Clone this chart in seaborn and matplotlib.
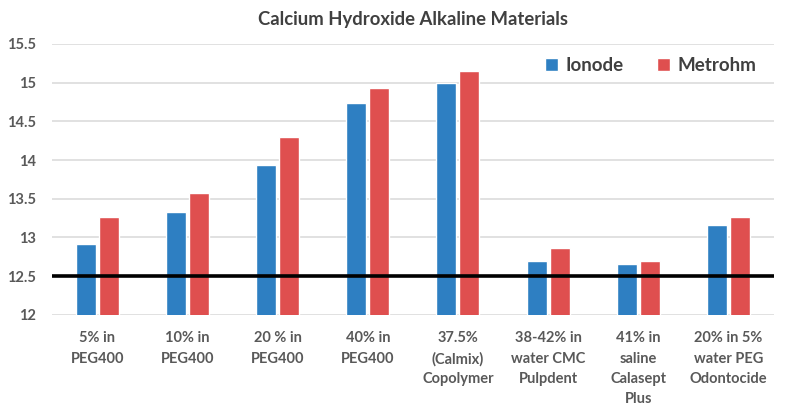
import pandas as pd
import seaborn as sns
from matplotlib import pyplot as plt
from matplotlib.ticker import FuncFormatter

# ---- data ----
materials = ['5% in\nPEG400', '10% in\nPEG400', '20 % in\nPEG400', '40% in\nPEG400',
             '37.5%\n(Calmix)\nCopolymer', '38-42% in\nwater CMC\nPulpdent',
             '41% in\nsaline\nCalasept\nPlus', '20% in 5%\nwater PEG\nOdontocide']
ionode = [12.92, 13.33, 13.93, 14.74, 15.00, 12.70, 12.66, 13.16]
metrohm = [13.26, 13.57, 14.30, 14.93, 15.15, 12.86, 12.70, 13.26]
threshold = 12.5

df = pd.DataFrame({'Material': materials * 2,
                   'pH': ionode + metrohm,
                   'Meter': ['Ionode'] * len(ionode) + ['Metrohm'] * len(metrohm)})

sns.set_style('white')
plt.rcParams['font.family'] = ['Lato', 'DejaVu Sans']

fig, ax = plt.subplots(figsize=(7.91, 4.11), dpi=100)
fig.subplots_adjust(left=0.066, right=0.978, top=0.893, bottom=0.234)

sns.barplot(ax=ax, data=df, x='Material', y='pH', hue='Meter',
            palette={'Ionode': '#2E7FC2', 'Metrohm': '#DF4F4F'},
            width=0.51, gap=0.13, saturation=1, zorder=2)

ax.axhline(threshold, color='black', lw=2.6, zorder=3)

ax.set_ylim(12, 15.5)
ax.set_yticks([12, 12.5, 13, 13.5, 14, 14.5, 15, 15.5])
ax.yaxis.set_major_formatter(FuncFormatter(lambda v, p: f'{v:g}'))
ax.grid(axis='y', color='#D9D9D9', lw=1.1, zorder=0)
ax.set_axisbelow(True)
for s in ax.spines.values():
    s.set_visible(False)

ax.set_xlabel('')
ax.set_ylabel('')
ax.tick_params(axis='y', labelsize=10.5, labelcolor='#595959', pad=12, length=0)
ax.tick_params(axis='x', labelsize=10.5, labelcolor='#595959', pad=12, length=0)
for lbl in ax.get_xticklabels() + ax.get_yticklabels():
    lbl.set_fontweight('bold')
for lbl in ax.get_xticklabels():
    lbl.set_linespacing(1.55)
    lbl.set_va('top')

ax.set_title('Calcium Hydroxide Alkaline Materials', fontsize=13.3, fontweight='bold',
             color='#404040', pad=14)

leg = ax.legend(loc='upper right', bbox_to_anchor=(1.0, 1.015), ncol=2, frameon=False,
                fontsize=13.5, handlelength=0.7, handleheight=0.7, handletextpad=0.4,
                columnspacing=1.8)
for t in leg.get_texts():
    t.set_color('#404040')
    t.set_fontweight('bold')

plt.savefig('out.png', dpi=100)
plt.close(fig)
